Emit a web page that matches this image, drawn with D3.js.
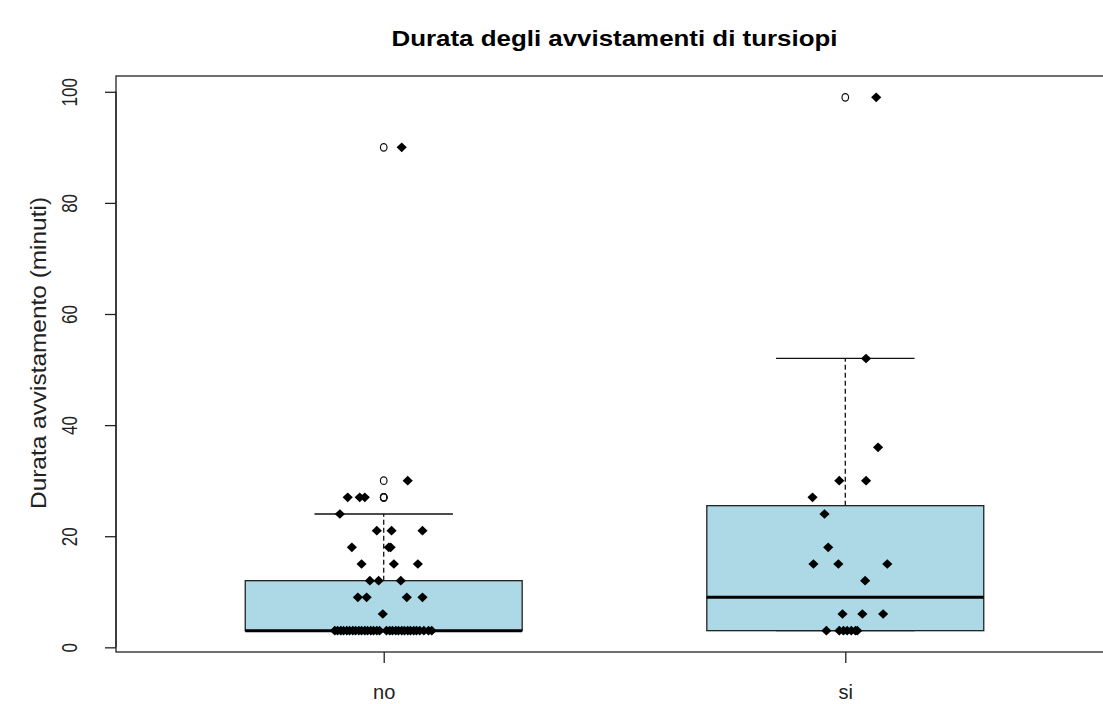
<!DOCTYPE html>
<html>
<head>
<meta charset="utf-8">
<script src="https://cdn.jsdelivr.net/npm/d3@7"></script>
<style>
  body { margin: 0; background: #fff; }
  svg { display: block; font-family: "Liberation Sans", Arial, sans-serif; }
</style>
</head>
<body>
<div id="chart"></div>
<script>
// Categories and summary values
const groups = ["no", "si"];
const yTicks = [0, 20, 40, 60, 80, 100];

// five-number summaries (lower whisker, Q1, median, Q3, upper whisker)
const boxNo = [3, 3, 3, 12, 24];
const boxSi = [3, 3, 9, 25.5, 52];

// outliers drawn as hollow symbols on the centre line
const outNo = [27, 27, 27, 30, 90];
const outSi = [99];

// jittered points: value and horizontal offset (in category units)
const ptsNoVal = [90, 30, 27, 27, 27, 24, 21, 21, 21, 18, 18, 18, 15, 15, 15, 12, 12, 12,
    9, 9, 9, 9, 6,
    3, 3, 3, 3, 3, 3, 3, 3, 3, 3, 3, 3, 3, 3, 3, 3, 3, 3, 3, 3, 3, 3, 3, 3, 3, 3, 3, 3, 3, 3, 3];
const ptsNoJit = [0.039, 0.052, -0.078, -0.052, -0.041, -0.095, -0.015, 0.017, 0.084, -0.069, 0.011, 0.015,
    -0.048, 0.022, 0.074, -0.030, -0.011, 0.037,
    -0.056, -0.037, 0.050, 0.084, -0.002,
    -0.106, -0.100, -0.093, -0.087, -0.080, -0.074, -0.067, -0.061, -0.054, -0.048, -0.041, -0.035,
    -0.028, -0.022, -0.015, -0.009, 0.006, 0.013, 0.019, 0.026, 0.032, 0.039, 0.045, 0.052,
    0.058, 0.065, 0.071, 0.078, 0.087, 0.097, 0.104];

const ptsSiVal = [99, 52, 36, 30, 30, 27, 24, 18, 15, 15, 15, 12, 6, 6, 6, 3, 3, 3, 3, 3, 3, 3];
const ptsSiJit = [0.067, 0.045, 0.071, -0.013, 0.045, -0.071, -0.045, -0.037, -0.069, -0.015, 0.091,
    0.043, -0.006, 0.037, 0.082, -0.041, -0.013, -0.004, 0.004, 0.013, 0.022, 0.026];

const title = "Durata degli avvistamenti di tursiopi";
const yLabel = "Durata avvistamento (minuti)";

const W = 1103, H = 704;
const margin = {top: 76, left: 116, bottom: 52};

const svg = d3.select("#chart").append("svg")
    .attr("width", W)
    .attr("height", H);

// R style: x from 0.5..2.5 widened by 4%, right edge falls off the picture
const x = d3.scaleLinear()
    .domain([0.42, 2.58])
    .range([margin.left, 1113]);

const y = d3.scaleLinear()
    .domain([-0.84, 102.84])
    .range([H - margin.bottom, margin.top]);

const stats = [boxNo, boxSi];
const outs = [outNo, outSi];
const pts = [
    ptsNoVal.map((v, i) => ({v, j: ptsNoJit[i]})),
    ptsSiVal.map((v, i) => ({v, j: ptsSiJit[i]}))
];

const boxHalf = 0.3, capHalf = 0.15;

// boxes
groups.forEach((g, gi) => {
    const c = gi + 1;
    const s = stats[gi];
    const grp = svg.append("g");

    // dashed whiskers
    grp.append("line")
        .attr("x1", x(c)).attr("x2", x(c))
        .attr("y1", y(s[3])).attr("y2", y(s[4]))
        .attr("stroke", "#111").attr("stroke-width", 1.3)
        .attr("stroke-dasharray", "5 3");
    grp.append("line")
        .attr("x1", x(c)).attr("x2", x(c))
        .attr("y1", y(s[1])).attr("y2", y(s[0]))
        .attr("stroke", "#111").attr("stroke-width", 1.3)
        .attr("stroke-dasharray", "5 3");

    // staples
    [s[0], s[4]].forEach(v => {
        grp.append("line")
            .attr("x1", x(c - capHalf)).attr("x2", x(c + capHalf))
            .attr("y1", y(v)).attr("y2", y(v))
            .attr("stroke", "#111").attr("stroke-width", 1.3);
    });

    grp.append("rect")
        .attr("x", x(c - boxHalf))
        .attr("y", y(s[3]))
        .attr("width", x(c + boxHalf) - x(c - boxHalf))
        .attr("height", y(s[1]) - y(s[3]))
        .attr("fill", "#add8e6")
        .attr("stroke", "#222")
        .attr("stroke-width", 1.3);

    grp.append("line")
        .attr("x1", x(c - boxHalf)).attr("x2", x(c + boxHalf))
        .attr("y1", y(s[2])).attr("y2", y(s[2]))
        .attr("stroke", "#000").attr("stroke-width", 3);

    // outliers (hollow)
    grp.selectAll(".out")
        .data(outs[gi])
        .enter()
        .append("ellipse")
        .attr("cx", x(c))
        .attr("cy", d => y(d))
        .attr("rx", 3.3)
        .attr("ry", 3.8)
        .attr("fill", "none")
        .attr("stroke", "#111")
        .attr("stroke-width", 1.2);
});

// filled diamond symbol like R pch 18
const diamond = {
    draw(ctx, size) {
        const w = Math.sqrt(size) * 0.72, h = Math.sqrt(size) * 0.68;
        ctx.moveTo(0, -h);
        ctx.lineTo(w, 0);
        ctx.lineTo(0, h);
        ctx.lineTo(-w, 0);
        ctx.closePath();
    }
};
const sym = d3.symbol().type(diamond).size(50);

groups.forEach((g, gi) => {
    const c = gi + 1;
    svg.append("g").selectAll("path")
        .data(pts[gi])
        .enter()
        .append("path")
        .attr("d", sym)
        .attr("transform", d => `translate(${x(c + d.j)},${y(d.v)})`)
        .attr("fill", "#000");
});

// frame
svg.append("rect")
    .attr("x", margin.left)
    .attr("y", margin.top)
    .attr("width", 1113 - margin.left)
    .attr("height", H - margin.bottom - margin.top)
    .attr("fill", "none")
    .attr("stroke", "#222")
    .attr("stroke-width", 1.3);

// y axis
const yAxis = svg.append("g")
    .attr("transform", `translate(${margin.left},0)`)
    .call(d3.axisLeft(y).tickValues(yTicks).tickSize(11).tickFormat(d3.format("d")));
yAxis.select(".domain")
    .attr("d", `M0,${y(0)}V${y(100)}`)
    .attr("stroke", "#222").attr("stroke-width", 1.3);
yAxis.selectAll(".tick line").attr("stroke", "#222").attr("stroke-width", 1.3);
yAxis.selectAll(".tick text")
    .attr("x", null).attr("dy", null)
    .attr("transform", "translate(-46,0) scale(1.25,1) rotate(-90)")
    .attr("text-anchor", "middle")
    .attr("dominant-baseline", "central")
    .style("font-size", "17px")
    .attr("fill", "#222");

// x axis
const xAxis = svg.append("g")
    .attr("transform", `translate(0,${H - margin.bottom})`)
    .call(d3.axisBottom(x).tickValues([1, 2]).tickSize(11).tickFormat(d => groups[d - 1]));
xAxis.select(".domain").remove();
xAxis.selectAll(".tick line").attr("stroke", "#222").attr("stroke-width", 1.3);
xAxis.selectAll(".tick text")
    .attr("y", 47).attr("dy", null)
    .style("font-size", "20px")
    .attr("fill", "#222");

// title
svg.append("text")
    .attr("x", x(1.5))
    .attr("y", 46)
    .attr("text-anchor", "middle")
    .attr("textLength", 446)
    .attr("lengthAdjust", "spacingAndGlyphs")
    .style("font-size", "22px")
    .style("font-weight", "bold")
    .text(title);

// y label
svg.append("text")
    .attr("transform", `translate(46,353) scale(1.2,1) rotate(-90)`)
    .attr("text-anchor", "middle")
    .attr("textLength", 312)
    .attr("lengthAdjust", "spacingAndGlyphs")
    .style("font-size", "18px")
    .attr("fill", "#222")
    .text(yLabel);
</script>
</body>
</html>
